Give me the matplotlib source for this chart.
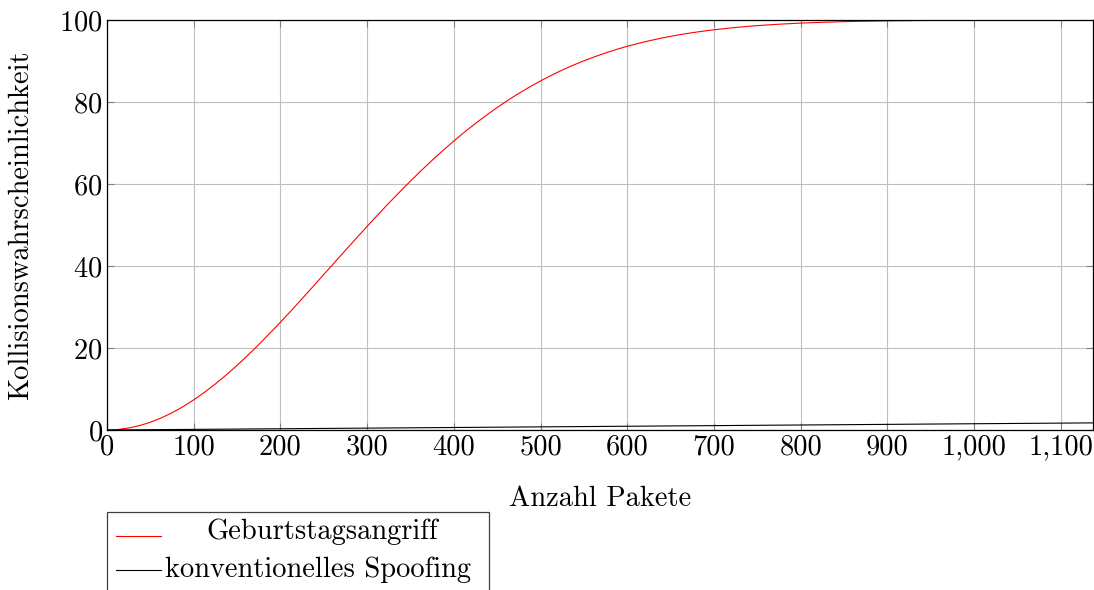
import numpy as np
import matplotlib.pyplot as plt
from matplotlib.patches import Rectangle
from matplotlib.lines import Line2D
from matplotlib.ticker import FuncFormatter

plt.rcParams['font.family'] = ['cmr10', 'DejaVu Serif']
plt.rcParams['mathtext.fontset'] = 'cm'
plt.rcParams['axes.formatter.use_mathtext'] = True

# Geburtstagsangriff
pakete = [0, 12.5, 25, 37.5, 50, 62.5, 75, 87.5, 100, 112.5, 125, 137.5, 150,
          162.5, 175, 187.5, 200, 212.5, 225, 237.5, 250, 262.5, 275, 287.5,
          300, 312.5, 325, 337.5, 350, 362.5, 375, 387.5, 400, 412.5, 425,
          437.5, 450, 462.5, 475, 487.5, 500, 512.5, 525, 537.5, 550, 562.5,
          575, 587.5, 600, 612.5, 625, 637.5, 650, 662.5, 675, 687.5, 700,
          725, 750, 775, 800, 825, 850, 900, 950, 1000, 1140]
geburtstag = [0, 0.12, 0.48, 1.07, 1.89, 2.94, 4.2, 5.67, 7.35, 9.2, 11.24,
              13.43, 15.77, 18.25, 20.84, 23.53, 26.3, 29.14, 32.04, 34.97,
              37.93, 40.88, 43.84, 46.77, 49.67, 52.53, 55.33, 58.06, 60.73,
              63.31, 65.8, 68.2, 70.5, 72.7, 74.79, 76.78, 78.67, 80.45, 82.12,
              83.69, 85.15, 86.52, 87.79, 88.97, 90.05, 91.05, 91.98, 92.82,
              93.59, 94.29, 94.92, 95.5, 96.02, 96.49, 96.91, 97.28, 97.62,
              98.19, 98.63, 98.98, 99.24, 99.44, 99.6, 99.79, 99.9, 99.95, 100.0]

# konventionelles Spoofing
pakete_spoof = [0, 1140]
spoofing = [0, 1.74]

xticks = [0, 100, 200, 300, 400, 500, 600, 700, 800, 900, 1000, 1100]
yticks = [0, 20, 40, 60, 80, 100]

FS = 20.5
W, H = 1094, 590
fig = plt.figure(figsize=(W / 100, H / 100), dpi=100)
ax = fig.add_axes([107 / W, (H - 430) / H, 986 / W, 410 / H])

ax.plot(pakete, geburtstag, color='red', lw=0.8)
ax.plot(pakete_spoof, spoofing, color='black', lw=0.8)

ax.set_xlim(0, 1137)
ax.set_ylim(0, 100)
ax.set_xticks(xticks)
ax.set_yticks(yticks)
ax.xaxis.set_major_formatter(FuncFormatter(lambda v, p: f"{int(v):,}"))
ax.grid(True, color='#bfbfbf', lw=0.8)
ax.set_axisbelow(True)
ax.tick_params(direction='in', length=5, width=0.8, color='#808080',
               top=True, right=True, labelsize=FS, pad=3)
for s in ax.spines.values():
    s.set_linewidth(0.9)

ax.set_xlabel('Anzahl Pakete', fontsize=FS, labelpad=18)
ax.set_ylabel('Kollisionswahrscheinlichkeit', fontsize=FS, labelpad=18)

# Legende unterhalb wie bei pgfplots
def fx(px):
    return px / W

def fy(py):
    return 1 - py / H

fig.add_artist(Rectangle((fx(107), fy(600)), fx(489) - fx(107), fy(512) - fy(600),
                         transform=fig.transFigure, fill=False, ec='#404040', lw=0.9))
fig.add_artist(Line2D([fx(116), fx(161)], [fy(536), fy(536)], transform=fig.transFigure,
                      color='red', lw=0.8))
fig.add_artist(Line2D([fx(116), fx(161)], [fy(570), fy(570)], transform=fig.transFigure,
                      color='black', lw=0.8))
fig.text(fx(322), fy(532), 'Geburtstagsangriff', ha='center', va='center', fontsize=FS)
fig.text(fx(318), fy(570), 'konventionelles Spoofing', ha='center', va='center', fontsize=FS)

fig.savefig('out.png', dpi=100)
